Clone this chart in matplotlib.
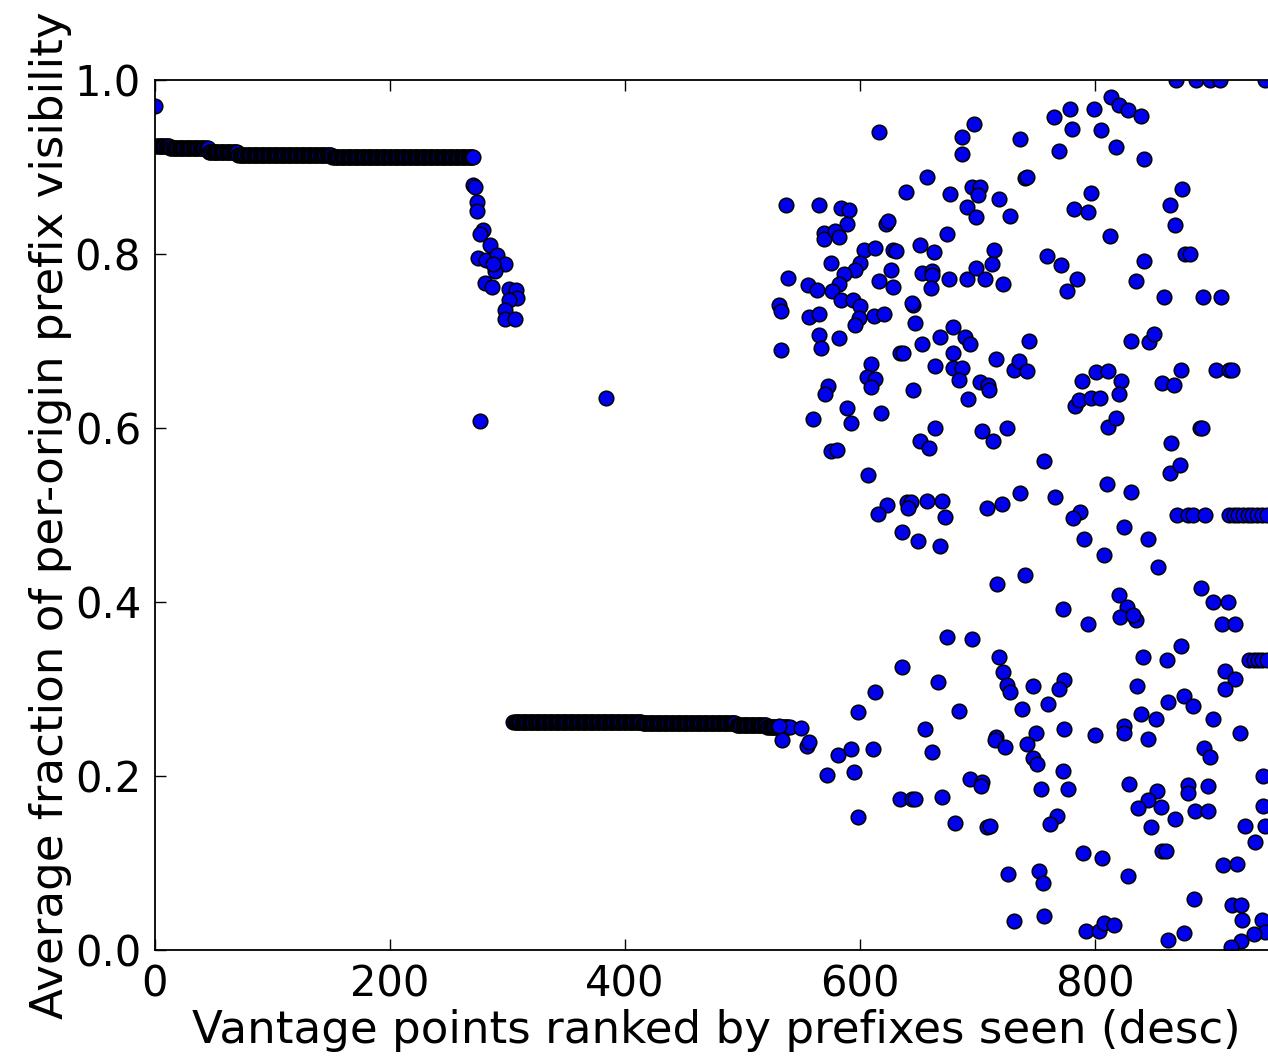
import matplotlib
matplotlib.use('Agg')
import matplotlib.pyplot as plt

# dense head: ranks 0..271, a solid band near 0.92
head_y = [0.970] + [0.924] * 12 + [0.922] * 33 + [0.917] * 25 + [0.914] * 80 + [0.912] * 121
head_x = list(range(len(head_y)))

# the drop after the head
drop_x = [271, 272, 274, 274, 279, 277, 285, 275, 282, 291, 298, 289, 288, 281, 287,
          301, 307, 308, 301, 298, 298, 306, 384, 277]
drop_y = [0.879, 0.877, 0.860, 0.849, 0.828, 0.823, 0.810, 0.795, 0.793, 0.799, 0.789,
          0.780, 0.789, 0.767, 0.762, 0.760, 0.759, 0.750, 0.747, 0.736, 0.725, 0.725,
          0.634, 0.608]

# low plateau: ranks 305..540 near 0.26
low_y = [0.262] * 110 + [0.261] * 80 + [0.259] * 26 + [0.256] * 20
low_x = list(range(305, 305 + len(low_y)))

# scattered tail
scatter_pts = [
    (616, .940), (697, .949), (687, .934), (687, .915), (657, .888), (639, .871), (677, .869),
    (695, .877), (702, .877), (700, .868), (718, .863), (728, .844), (537, .856), (565, .856),
    (584, .853), (591, .851), (589, .835), (622, .835), (624, .838), (691, .854), (699, .842),
    (674, .823), (569, .824), (569, .817), (579, .826), (582, .819), (603, .805), (613, .807),
    (628, .805), (631, .804), (651, .810), (663, .802), (714, .805), (575, .790), (600, .790),
    (596, .782), (626, .782), (653, .778), (661, .780), (661, .776), (676, .771), (691, .771),
    (699, .784), (706, .771), (712, .789), (722, .766), (539, .772), (556, .764), (563, .759),
    (586, .777), (582, .766), (576, .757), (616, .769), (628, .762), (660, .761),
    (531, .741), (533, .734), (557, .728), (565, .731), (584, .747), (594, .747), (600, .740),
    (599, .727), (596, .718), (612, .729), (620, .731), (645, .741), (644, .744), (647, .721),
    (565, .707), (567, .692), (582, .704), (533, .690), (634, .686), (637, .686), (653, .696),
    (668, .705), (679, .716), (689, .705), (694, .696), (679, .686), (664, .671), (679, .669),
    (687, .669), (684, .655), (702, .653), (709, .649), (710, .644), (716, .679), (731, .667),
    (609, .674), (606, .659), (613, .656), (609, .647), (573, .648), (570, .639), (645, .644),
    (692, .633), (589, .623), (560, .610), (592, .606), (618, .617), (664, .600), (651, .585),
    (659, .577), (704, .596), (713, .585), (725, .600), (575, .573), (580, .575), (607, .546),
    (623, .511), (615, .501), (640, .515), (643, .515), (641, .508), (657, .516), (670, .516),
    (672, .498), (708, .508), (721, .513),
    (636, .481), (649, .470), (668, .464), (717, .421), (674, .360), (695, .358), (718, .337),
    (722, .319), (725, .305), (728, .297), (636, .325), (666, .308), (613, .297), (598, .273),
    (684, .275), (655, .254), (716, .245),
    (531, .257), (550, .255), (534, .241), (555, .234), (557, .239), (581, .224), (592, .231),
    (611, .231), (661, .228), (715, .241), (723, .233), (572, .201), (595, .205), (634, .174),
    (644, .174), (647, .174), (670, .176), (694, .197), (704, .193), (703, .189), (598, .153),
    (681, .146), (708, .141), (711, .143), (726, .087), (731, .033),
    (869, 1.0), (886, 1.0), (898, 1.0), (906, 1.0), (945, 1.0), (814, .981), (820, .971),
    (779, .967), (799, .967), (828, .966), (839, .959), (765, .957), (780, .944), (805, .943),
    (736, .932), (769, .918), (818, .923), (842, .909), (740, .887), (742, .888), (797, .870),
    (782, .852), (794, .848), (874, .875), (864, .856), (868, .833), (813, .821), (877, .800),
    (881, .800), (759, .798), (771, .787), (842, .792), (785, .771), (835, .769), (776, .757),
    (859, .751), (892, .751), (907, .751),
    (744, .700), (831, .700), (846, .699), (850, .708), (735, .677), (742, .665), (789, .654),
    (801, .664), (811, .666), (822, .654), (820, .639), (783, .625), (786, .632), (797, .634),
    (804, .634), (811, .601), (818, .611), (873, .667), (903, .667), (914, .667), (917, .667),
    (857, .652), (867, .649), (889, .600), (891, .600), (865, .583), (864, .548), (872, .557),
    (757, .562), (736, .525), (766, .521), (810, .536), (831, .527), (787, .504), (781, .497),
    (870, .500), (879, .500), (883, .500), (894, .500), (914, .500), (918, .500), (922, .500),
    (926, .500), (930, .500), (934, .500), (938, .500), (942, .500), (946, .500),
    (825, .486), (791, .472), (845, .472), (808, .454), (854, .440), (740, .431), (890, .416),
    (900, .400), (913, .400), (908, .375), (919, .375), (820, .408), (827, .394), (821, .383),
    (835, .379), (832, .385), (773, .392), (794, .375), (873, .350), (841, .337), (861, .333),
    (931, .333), (935, .333), (939, .333), (942, .333), (946, .333), (911, .321), (919, .312),
    (911, .300), (747, .304), (774, .310), (769, .300), (836, .304), (760, .283), (738, .277),
    (862, .285), (876, .292), (883, .281), (839, .271), (852, .266), (900, .266), (750, .250),
    (774, .254), (800, .247), (825, .257), (825, .249), (845, .243), (923, .250),
    (742, .237), (893, .232), (898, .222), (747, .221), (751, .214), (773, .206), (829, .191),
    (754, .185), (777, .185), (879, .190), (879, .180), (896, .189), (853, .183), (845, .172),
    (837, .163), (856, .164), (848, .141), (868, .151), (885, .160), (896, .160), (943, .200),
    (943, .166), (768, .154), (762, .145), (928, .143), (936, .124), (945, .143), (790, .112),
    (806, .106), (857, .114), (860, .114), (909, .098), (921, .099), (752, .091), (756, .077),
    (828, .085), (884, .059), (757, .039), (917, .052), (924, .052), (925, .034), (942, .034),
    (945, .021), (935, .018), (924, .010), (916, .004), (792, .022), (803, .022), (808, .031),
    (816, .029), (862, .011), (876, .020),
]
scatter_x = [p[0] for p in scatter_pts]
scatter_y = [p[1] for p in scatter_pts]

x = head_x + drop_x + low_x + scatter_x
y = head_y + drop_y + low_y + scatter_y

fig = plt.figure(figsize=(12.68, 10.59), dpi=100)
# axes run past the right edge of the picture, as in the reference crop
ax = fig.add_axes([155 / 1268, 109 / 1059, 1175 / 1268, 870 / 1059])
ax.plot(x, y, 'o', color='#0000ee', markeredgecolor='black', markersize=10.5, markeredgewidth=1.1)

ax.set_xlim(0, 1000)
ax.set_ylim(0, 1.0)
ax.set_xticks([0, 200, 400, 600, 800])
ax.set_yticks([0.0, 0.2, 0.4, 0.6, 0.8, 1.0])
ax.tick_params(direction='in', top=True, right=True, length=8, width=1, labelsize=30, pad=10)
for s in ax.spines.values():
    s.set_linewidth(1.3)

ax.set_xlabel('Vantage points ranked by prefixes seen (desc)', fontsize=32.5)
ax.xaxis.set_label_coords(0.478, -0.068)
ax.set_ylabel('Average fraction of per-origin prefix visibility', fontsize=32.5, labelpad=2)

fig.savefig('out.png', dpi=100)
